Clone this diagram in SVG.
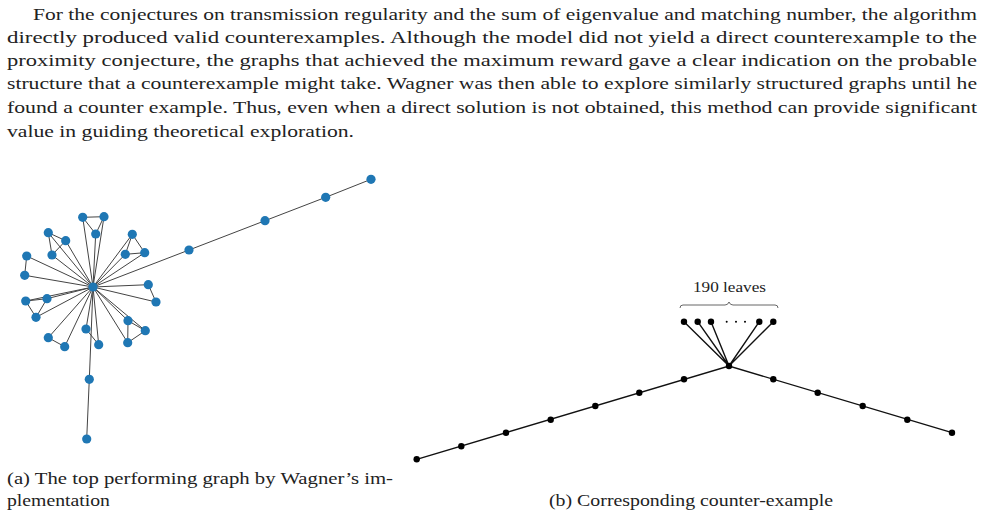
<svg xmlns="http://www.w3.org/2000/svg" width="983" height="515" viewBox="0 0 983 515">
<style>
.t{font-family:"Liberation Serif","DejaVu Serif",serif;font-size:17.5px;fill:#222}
.c{font-family:"Liberation Serif","DejaVu Serif",serif;font-size:16.5px;fill:#222}
.e{stroke:#444;stroke-width:1;fill:none}
.eb{stroke:#111;stroke-width:1.4;fill:none}
.n circle{fill:#1f77b4}
.m circle{fill:#000}
</style>
<rect width="983" height="515" fill="#fff"/>
<g id="paragraph">
<text class="t" x="33" y="20" textLength="944" lengthAdjust="spacingAndGlyphs">For the conjectures on transmission regularity and the sum of eigenvalue and matching number, the algorithm</text>
<text class="t" x="7" y="43" textLength="970" lengthAdjust="spacingAndGlyphs">directly produced valid counterexamples.  Although the model did not yield a direct counterexample to the</text>
<text class="t" x="7" y="66" textLength="970" lengthAdjust="spacingAndGlyphs">proximity conjecture, the graphs that achieved the maximum reward gave a clear indication on the probable</text>
<text class="t" x="7" y="89" textLength="970" lengthAdjust="spacingAndGlyphs">structure that a counterexample might take. Wagner was then able to explore similarly structured graphs until he</text>
<text class="t" x="7" y="113" textLength="970" lengthAdjust="spacingAndGlyphs">found a counter example. Thus, even when a direct solution is not obtained, this method can provide significant</text>
<text class="t" x="7" y="137" textLength="347" lengthAdjust="spacingAndGlyphs">value in guiding theoretical exploration.</text>
</g>
<g id="connectors-a">
<path class="e" d="M93,287 L189,250 L265,220.7 L325.7,197.3 L371,179.3 M93,287 L89.3,379.3 L86.7,439"/>
<path class="e" d="M93,287 L82.7,217.3 M93,287 L104,216.7 M93,287 L95.7,234 M82.7,217.3 L104,216.7 L95.7,234 Z"/>
<path class="e" d="M93,287 L48.3,232.7 M93,287 L65.7,240.7 M93,287 L52,255 M48.3,232.7 L65.7,240.7 L52,255 Z"/>
<path class="e" d="M93,287 L132.3,234.3 M93,287 L125.3,254.3 M93,287 L144.7,252.7 M132.3,234.3 L125.3,254.3 L144.7,252.7 Z"/>
<path class="e" d="M93,287 L26.7,256 M93,287 L24.7,275.3 M26.7,256 L24.7,275.3"/>
<path class="e" d="M93,287 L25.7,301 M93,287 L47,298.7 M93,287 L36,317.3 M25.7,301 L47,298.7 L36,317.3 Z"/>
<path class="e" d="M93,287 L148.3,284.7 M93,287 L156,302 M148.3,284.7 L156,302"/>
<path class="e" d="M93,287 L128,320.7 M93,287 L145.3,330.7 M93,287 L127.7,342.7 M128,320.7 L145.3,330.7 L127.7,342.7 Z"/>
<path class="e" d="M93,287 L86,329 M93,287 L98.7,344.7 M86,329 L98.7,344.7"/>
<path class="e" d="M93,287 L48.3,337.7 M93,287 L64.7,346.7 M48.3,337.7 L64.7,346.7"/>
</g>
<g id="graph-a" class="n">
<circle id="hub" cx="93" cy="287" r="4.6"/>
<circle cx="189" cy="250" r="4.6"/><circle cx="265" cy="220.7" r="4.6"/><circle cx="325.7" cy="197.3" r="4.6"/><circle cx="371" cy="179.3" r="4.6"/>
<circle cx="89.3" cy="379.3" r="4.6"/><circle cx="86.7" cy="439" r="4.6"/>
<circle cx="82.7" cy="217.3" r="4.6"/><circle cx="104" cy="216.7" r="4.6"/><circle cx="95.7" cy="234" r="4.6"/>
<circle cx="48.3" cy="232.7" r="4.6"/><circle cx="65.7" cy="240.7" r="4.6"/><circle cx="52" cy="255" r="4.6"/>
<circle cx="132.3" cy="234.3" r="4.6"/><circle cx="125.3" cy="254.3" r="4.6"/><circle cx="144.7" cy="252.7" r="4.6"/>
<circle cx="26.7" cy="256" r="4.6"/><circle cx="24.7" cy="275.3" r="4.6"/>
<circle cx="25.7" cy="301" r="4.6"/><circle cx="47" cy="298.7" r="4.6"/><circle cx="36" cy="317.3" r="4.6"/>
<circle cx="148.3" cy="284.7" r="4.6"/><circle cx="156" cy="302" r="4.6"/>
<circle cx="128" cy="320.7" r="4.6"/><circle cx="145.3" cy="330.7" r="4.6"/><circle cx="127.7" cy="342.7" r="4.6"/>
<circle cx="86" cy="329" r="4.6"/><circle cx="98.7" cy="344.7" r="4.6"/>
<circle cx="48.3" cy="337.7" r="4.6"/><circle cx="64.7" cy="346.7" r="4.6"/>
</g>
<g id="connectors-b">
<path class="eb" d="M416.7,459.3 L729,366 L952,432.7"/>
<path class="eb" d="M729,366 L684,321.7 M729,366 L697.7,321.7 M729,366 L711,321.7 M729,366 L759.3,321.7 M729,366 L773.3,321.7"/>
</g>
<g id="graph-b" class="m">
<circle cx="729" cy="366" r="3.2"/>
<circle cx="416.7" cy="459.3" r="3.2"/><circle cx="461.3" cy="446.3" r="3.2"/><circle cx="506" cy="432.7" r="3.2"/><circle cx="550.7" cy="419.7" r="3.2"/><circle cx="595.3" cy="406" r="3.2"/><circle cx="639.3" cy="392.7" r="3.2"/><circle cx="684" cy="379.3" r="3.2"/>
<circle cx="773.3" cy="379.3" r="3.2"/><circle cx="817.7" cy="392.7" r="3.2"/><circle cx="862.7" cy="406" r="3.2"/><circle cx="907.3" cy="419.7" r="3.2"/><circle cx="952" cy="432.7" r="3.2"/>
<circle cx="684" cy="321.7" r="3.2"/><circle cx="697.7" cy="321.7" r="3.2"/><circle cx="711" cy="321.7" r="3.2"/><circle cx="759.3" cy="321.7" r="3.2"/><circle cx="773.3" cy="321.7" r="3.2"/>
<circle cx="726.7" cy="321.7" r="1"/><circle cx="736" cy="321.7" r="1"/><circle cx="745" cy="321.7" r="1"/>
</g>
<g id="leaves-label">
<path d="M680,308 q0,-3 3,-3 L725,305 q3,0 4,-3 q1,3 4,3 L775,305 q3,0 3,3" fill="none" stroke="#555" stroke-width="0.9"/>
<text x="693" y="292" textLength="73" lengthAdjust="spacingAndGlyphs" font-family="Liberation Serif, DejaVu Serif, serif" font-size="14.5" fill="#222">190 leaves</text>
</g>
<g id="captions">
<text class="c" x="7" y="484" textLength="386" lengthAdjust="spacingAndGlyphs">(a) The top performing graph by Wagner’s im-</text>
<text class="c" x="7" y="506" textLength="103" lengthAdjust="spacingAndGlyphs">plementation</text>
<text class="c" x="549" y="506" textLength="284" lengthAdjust="spacingAndGlyphs">(b) Corresponding counter-example</text>
</g>
</svg>
